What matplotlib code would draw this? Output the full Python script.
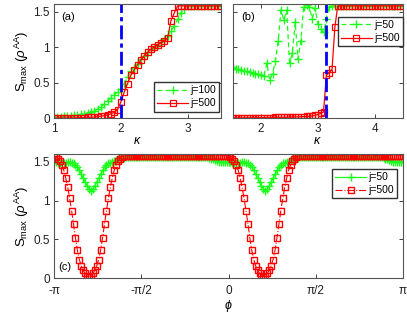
import numpy as np
import matplotlib
matplotlib.use('Agg')
import matplotlib.pyplot as plt

plt.rcParams['font.family'] = ['Liberation Sans', 'DejaVu Sans']
plt.rcParams['mathtext.fontset'] = 'custom'
plt.rcParams['mathtext.rm'] = 'Liberation Sans'
plt.rcParams['mathtext.it'] = 'Liberation Sans:italic'

# panel (a): kappa from 1 to 3.5, step 0.05
kappa_a = np.linspace(1.0, 3.5, 51)
s_a_100 = [0.02, 0.022, 0.025, 0.028, 0.032, 0.037, 0.043, 0.05, 0.058, 0.068,
           0.08, 0.094, 0.11, 0.13, 0.16, 0.20, 0.25, 0.29, 0.33, 0.37,
           0.42, 0.49, 0.58, 0.66, 0.71, 0.77, 0.83, 0.88, 0.93, 0.97,
           1.00, 1.03, 1.07, 1.11, 1.16, 1.22, 1.30, 1.39, 1.48, 1.54,
           1.58, 1.58, 1.58, 1.58, 1.58, 1.58, 1.58, 1.58, 1.58, 1.58,
           1.58]
s_a_500 = [0.003, 0.004, 0.004, 0.005, 0.006, 0.007, 0.008, 0.009, 0.010, 0.012,
           0.014, 0.017, 0.020, 0.025, 0.031, 0.039, 0.050, 0.064, 0.085, 0.125,
           0.23, 0.37, 0.49, 0.61, 0.68, 0.75, 0.82, 0.88, 0.93, 0.97,
           1.00, 1.03, 1.06, 1.09, 1.13, 1.37, 1.48, 1.58, 1.58, 1.58,
           1.58, 1.58, 1.58, 1.58, 1.58, 1.58, 1.58, 1.58, 1.58, 1.58,
           1.58]

# panel (b): kappa from 1.5 to 4.5, step 0.05
kappa_b = np.linspace(1.5, 4.5, 61)
s_b_50 = [0.72, 0.70, 0.69, 0.68, 0.67, 0.66, 0.65, 0.64, 0.63, 0.62,
          0.61, 0.60, 0.78, 0.54, 0.63, 0.80, 1.09, 1.52, 1.38, 1.52,
          0.78, 0.92, 1.35, 0.83, 1.09, 1.57, 1.59, 1.56, 1.40, 1.55,
          1.33, 1.26, 1.21, 1.40, 1.57, 1.58, 1.58, 1.58, 1.58, 1.58,
          1.58, 1.58, 1.58, 1.58, 1.58, 1.58, 1.58, 1.58, 1.58, 1.58,
          1.58, 1.58, 1.58, 1.58, 1.58, 1.58, 1.58, 1.58, 1.58, 1.58,
          1.58]
s_b_500 = [0.008, 0.008, 0.008, 0.008, 0.009, 0.009, 0.009, 0.010, 0.010, 0.010,
           0.011, 0.011, 0.012, 0.012, 0.013, 0.014, 0.015, 0.016, 0.017, 0.018,
           0.019, 0.020, 0.021, 0.022, 0.024, 0.026, 0.028, 0.030, 0.035, 0.045,
           0.055, 0.070, 0.090, 0.61, 0.64, 0.69, 1.28, 1.58, 1.58, 1.58,
           1.58, 1.58, 1.58, 1.58, 1.58, 1.58, 1.58, 1.58, 1.58, 1.58,
           1.58, 1.58, 1.58, 1.58, 1.58, 1.58, 1.58, 1.58, 1.58, 1.58,
           1.58]

# panel (c): phi from -pi to pi, 181 points
phi_c = np.linspace(-np.pi, np.pi, 181)
s_c_50 = [1.50, 1.50, 1.49, 1.49, 1.49, 1.49, 1.49, 1.50, 1.50, 1.49,
          1.48, 1.46, 1.43, 1.39, 1.34, 1.29, 1.24, 1.19, 1.15, 1.12,
          1.15, 1.19, 1.24, 1.29, 1.34, 1.39, 1.43, 1.46, 1.48, 1.49,
          1.50, 1.51, 1.52, 1.53, 1.54, 1.55, 1.55, 1.56, 1.56, 1.56,
          1.56, 1.56, 1.56, 1.56, 1.56, 1.56, 1.56, 1.56, 1.56, 1.56,
          1.56, 1.56, 1.56, 1.56, 1.56, 1.56, 1.56, 1.56, 1.56, 1.56,
          1.56, 1.56, 1.56, 1.56, 1.56, 1.56, 1.56, 1.56, 1.56, 1.56,
          1.56, 1.56, 1.56, 1.56, 1.56, 1.56, 1.56, 1.56, 1.56, 1.56,
          1.55, 1.54, 1.53, 1.52, 1.51, 1.50, 1.50, 1.50, 1.50, 1.50,
          1.50, 1.50, 1.49, 1.49, 1.49, 1.49, 1.49, 1.50, 1.50, 1.49,
          1.48, 1.46, 1.43, 1.39, 1.34, 1.29, 1.24, 1.19, 1.15, 1.12,
          1.15, 1.19, 1.24, 1.29, 1.34, 1.39, 1.43, 1.46, 1.48, 1.49,
          1.50, 1.51, 1.52, 1.53, 1.54, 1.55, 1.55, 1.56, 1.56, 1.56,
          1.56, 1.56, 1.56, 1.56, 1.56, 1.56, 1.56, 1.56, 1.56, 1.56,
          1.56, 1.56, 1.56, 1.56, 1.56, 1.56, 1.56, 1.56, 1.56, 1.56,
          1.56, 1.56, 1.56, 1.56, 1.56, 1.56, 1.56, 1.56, 1.56, 1.56,
          1.56, 1.56, 1.56, 1.56, 1.56, 1.56, 1.56, 1.56, 1.56, 1.56,
          1.55, 1.54, 1.53, 1.52, 1.51, 1.50, 1.50, 1.50, 1.50, 1.50,
          1.50]
s_c_500 = [1.57, 1.56, 1.54, 1.51, 1.46, 1.39, 1.29, 1.17, 1.03, 0.87,
           0.70, 0.52, 0.36, 0.24, 0.16, 0.10, 0.06, 0.03, 0.02, 0.03,
           0.06, 0.10, 0.16, 0.24, 0.36, 0.52, 0.70, 0.87, 1.03, 1.17,
           1.29, 1.39, 1.46, 1.51, 1.54, 1.56, 1.57, 1.58, 1.58, 1.58,
           1.58, 1.58, 1.58, 1.58, 1.58, 1.58, 1.58, 1.58, 1.58, 1.58,
           1.58, 1.58, 1.58, 1.58, 1.58, 1.58, 1.58, 1.58, 1.58, 1.58,
           1.58, 1.58, 1.58, 1.58, 1.58, 1.58, 1.58, 1.58, 1.58, 1.58,
           1.58, 1.58, 1.58, 1.58, 1.58, 1.58, 1.58, 1.58, 1.58, 1.58,
           1.58, 1.58, 1.58, 1.58, 1.58, 1.58, 1.58, 1.58, 1.58, 1.58,
           1.57, 1.56, 1.54, 1.51, 1.46, 1.39, 1.29, 1.17, 1.03, 0.87,
           0.70, 0.52, 0.36, 0.24, 0.16, 0.10, 0.06, 0.03, 0.02, 0.03,
           0.06, 0.10, 0.16, 0.24, 0.36, 0.52, 0.70, 0.87, 1.03, 1.17,
           1.29, 1.39, 1.46, 1.51, 1.54, 1.56, 1.57, 1.58, 1.58, 1.58,
           1.58, 1.58, 1.58, 1.58, 1.58, 1.58, 1.58, 1.58, 1.58, 1.58,
           1.58, 1.58, 1.58, 1.58, 1.58, 1.58, 1.58, 1.58, 1.58, 1.58,
           1.58, 1.58, 1.58, 1.58, 1.58, 1.58, 1.58, 1.58, 1.58, 1.58,
           1.58, 1.58, 1.58, 1.58, 1.58, 1.58, 1.58, 1.58, 1.58, 1.58,
           1.58, 1.58, 1.58, 1.58, 1.58, 1.58, 1.58, 1.58, 1.58, 1.58,
           1.57]

phi_ticks = [-np.pi, -np.pi / 2, 0, np.pi / 2, np.pi]
phi_labels = ['-π', '-π/2', '0', 'π/2', 'π']
critical_a = 2.0
critical_b = np.pi

green = '#1aff1a'
red = '#ff0000'
blue = '#0000ff'
ylab = r'S$_{\rm max}$ ($\rho^{\rm AA}$)'


def style(ax):
    for sp in ax.spines.values():
        sp.set_color('#555555')
        sp.set_linewidth(0.8)
    ax.tick_params(direction='in', top=True, right=True, length=3, width=0.6,
                   labelsize=8.5, pad=3, colors='#222222')
    ax.set_ylim(0, 1.6)
    ax.set_yticks([0, 0.5, 1, 1.5])


fig = plt.figure(figsize=(4.07, 3.15), dpi=100)
ax_a = fig.add_axes([0.133, 0.624, 0.410, 0.362])
ax_b = fig.add_axes([0.572, 0.624, 0.418, 0.362])
ax_c = fig.add_axes([0.133, 0.117, 0.857, 0.394])

# (a)
ax_a.plot(kappa_a, s_a_100, color=green, ls=(0, (4, 2.5)), lw=0.9, marker='+',
          ms=5.5, mew=1.0, label='j=100')
ax_a.plot(kappa_a, s_a_500, color=red, ls='-', lw=0.9, marker='s', ms=4.5,
          mfc='none', mew=0.9, label='j=500')
ax_a.axvline(critical_a, color=blue, ls=(0, (5, 1.5, 1.5, 1.5)), lw=2)
style(ax_a)
ax_a.set_xlim(1, 3.5)
ax_a.set_xticks([1, 2, 3])
ax_a.set_yticklabels(['0', '0.5', '1', '1.5'])
ax_a.set_xlabel(r'$\kappa$', fontsize=9, labelpad=0)
ax_a.set_ylabel(ylab, fontsize=9.5, labelpad=2)
ax_a.text(0.04, 0.93, '(a)', transform=ax_a.transAxes, fontsize=8, va='top')
ax_a.legend(loc='lower right', bbox_to_anchor=(0.99, 0.06), borderaxespad=0,
            fontsize=7.5, handlelength=3.0, handletextpad=0.2, borderpad=0.3,
            labelspacing=0.3, fancybox=False, framealpha=1, edgecolor='#333333')

# (b)
ax_b.plot(kappa_b, s_b_50, color=green, ls=(0, (4, 2.5)), lw=0.9, marker='+',
          ms=5.5, mew=1.0, label='j=50')
ax_b.plot(kappa_b, s_b_500, color=red, ls='-', lw=0.9, marker='s', ms=4.5,
          mfc='none', mew=0.9, label='j=500')
ax_b.axvline(critical_b, color=blue, ls=(0, (5, 1.5, 1.5, 1.5)), lw=2)
style(ax_b)
ax_b.set_xlim(1.5, 4.5)
ax_b.set_xticks([2, 3, 4])
ax_b.set_yticklabels([])
ax_b.set_xlabel(r'$\kappa$', fontsize=9, labelpad=0)
ax_b.text(0.05, 0.93, '(b)', transform=ax_b.transAxes, fontsize=8, va='top')
ax_b.legend(loc='upper right', bbox_to_anchor=(1.0, 0.89), borderaxespad=0,
            fontsize=7.5, handlelength=3.0, handletextpad=0.2, borderpad=0.3,
            labelspacing=0.3, fancybox=False, framealpha=1, edgecolor='#333333')

# (c)
ax_c.plot(phi_c, s_c_50, color=green, ls='-', lw=0.9, marker='+', ms=5.5,
          mew=1.0, label='j=50')
ax_c.plot(phi_c, s_c_500, color=red, ls='-.', lw=0.8, marker='s', ms=4.5,
          mfc='none', mew=1.0, label='j=500')
style(ax_c)
ax_c.tick_params(axis='x', pad=5)
ax_c.set_xlim(-np.pi, np.pi)
ax_c.set_xticks(phi_ticks)
ax_c.set_xticklabels(phi_labels)
ax_c.set_yticklabels(['0', '0.5', '1', '1.5'])
ax_c.set_xlabel(r'$\phi$', fontsize=9, labelpad=1)
ax_c.set_ylabel(ylab, fontsize=9.5, labelpad=2)
ax_c.text(0.012, 0.05, '(c)', transform=ax_c.transAxes, fontsize=8, va='bottom')
ax_c.legend(loc='upper right', bbox_to_anchor=(0.983, 0.879), borderaxespad=0,
            fontsize=7.5, handlelength=3.0, handletextpad=0.2, borderpad=0.3,
            labelspacing=0.3, fancybox=False, framealpha=1, edgecolor='#333333')

fig.savefig('out.png', dpi=100)
